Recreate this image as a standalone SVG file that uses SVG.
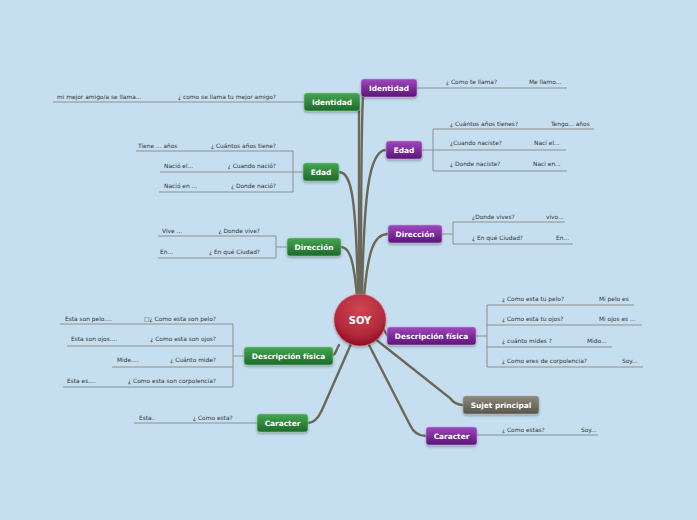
<svg xmlns="http://www.w3.org/2000/svg" width="697" height="520" viewBox="0 0 697 520">
<defs>
<linearGradient id="gp" x1="0" y1="0" x2="0" y2="1"><stop offset="0" stop-color="#a048be"/><stop offset="1" stop-color="#5a1377"/></linearGradient>
<linearGradient id="gg" x1="0" y1="0" x2="0" y2="1"><stop offset="0" stop-color="#45a651"/><stop offset="1" stop-color="#1c6a2a"/></linearGradient>
<linearGradient id="gs" x1="0" y1="0" x2="0" y2="1"><stop offset="0" stop-color="#8d8a7d"/><stop offset="1" stop-color="#57544a"/></linearGradient>
<radialGradient id="gc" cx="0.5" cy="0.3" r="0.7"><stop offset="0" stop-color="#d04655"/><stop offset="0.7" stop-color="#b2293a"/><stop offset="1" stop-color="#8c0d22"/></radialGradient>
<filter id="sh" x="-20%" y="-20%" width="140%" height="160%"><feDropShadow dx="0" dy="1.5" stdDeviation="1" flood-color="#000" flood-opacity="0.3"/></filter>
</defs>
<style>
.bg{fill:#c5dff1}
.main{fill:none;stroke:#6b6859;stroke-width:2.4;stroke-linecap:round}
.sub{fill:none;stroke:#8f8f8a;stroke-width:1}
.t{font-family:"DejaVu Sans",Verdana,sans-serif;font-size:5.9px;fill:#333}
.e{text-anchor:end}
.n{font-family:"DejaVu Sans",Verdana,sans-serif;font-size:7.4px;font-weight:bold;fill:#fff;text-anchor:middle}
.p{fill:url(#gp);stroke:#c99ad8;stroke-width:0.6;filter:url(#sh)}
.g{fill:url(#gg);stroke:#8fcf97;stroke-width:0.6;filter:url(#sh)}
.s{fill:url(#gs);stroke:#b0ad9f;stroke-width:0.6;filter:url(#sh)}
</style>
<rect class="bg" width="697" height="520"/>
<g id="connectors">
<path class="main" d="M361,296 C361,200 361,130 363,97"/>
<path class="main" d="M359,296 C359,210 359,140 359,111"/>
<path class="main" d="M362,296 C364,200 368,150 386,150"/>
<path class="main" d="M358,296 C356,200 352,172 339,172"/>
<path class="main" d="M364,297 C368,250 374,234 388,234"/>
<path class="main" d="M357,297 C354,262 350,247 341,247"/>
<path class="main" d="M383,328 L387,335"/>
<path class="main" d="M339,345 C336,350 336,354 333,355"/>
<path class="main" d="M374,338 L450,398 Q455,405 463,405"/>
<path class="main" d="M368,343 L410,425 Q415,436 426,436"/>
<path class="main" d="M351,344 L322,410 Q316,423 308,423"/>
<path class="sub" d="M417,88 H567"/>
<path class="sub" d="M53,102 H304"/>
<path class="sub" d="M422,150 H433 M433,129 V171 M433,129 H594 M433,150 H566 M433,171 H567"/>
<path class="sub" d="M303,172 H293 M293,151 V192 M136,151 H293 M160,172 H293 M159,192 H293"/>
<path class="sub" d="M442,234 H453 M453,222 V244 M453,222 H565 M453,244 H573"/>
<path class="sub" d="M287,247 H276 M276,236 V258 M158,236 H276 M158,258 H276"/>
<path class="sub" d="M476,336 H487 M487,305 V367 M487,305 H634 M487,325 H642 M487,347 H612 M487,367 H643"/>
<path class="sub" d="M244,356 H233 M233,324 V387 M60,324 H233 M67,346 H233 M112,367 H233 M63,387 H233"/>
<path class="sub" d="M134,423 H257"/>
<path class="sub" d="M477,435 H598"/>
</g>
<g id="n-soy">
<circle cx="360" cy="320" r="26" fill="url(#gc)" stroke="#e07a86" stroke-width="0.6" filter="url(#sh)"/>
<text x="360" y="323.5" class="n" style="font-size:10px">SOY</text>
</g>
<g id="n-identidad-p">
<rect class="p" x="361" y="79" width="56" height="18" rx="3"/>
<text class="n" x="389" y="91">Identidad</text>
<text class="t" x="446" y="84">¿ Como te llama?</text>
<text class="t" x="529" y="84">Me llamo...</text>
</g>
<g id="n-identidad-g">
<rect class="g" x="304" y="93" width="56" height="18" rx="3"/>
<text class="n" x="332" y="105">Identidad</text>
<text class="t" x="57" y="98.5">mi mejor amigo/a se llama...</text>
<text class="t e" x="276" y="98.5">¿ como se llama tu mejor amigo?</text>
</g>
<g id="n-edad-p">
<rect class="p" x="386" y="141" width="36" height="18" rx="3"/>
<text class="n" x="404" y="153">Edad</text>
<text class="t" x="450" y="125.5">¿ Cuántos años tienes?</text>
<text class="t" x="551" y="125.5">Tengo... años</text>
<text class="t" x="450" y="145">¿Cuando naciste?</text>
<text class="t" x="534" y="145">Naci el...</text>
<text class="t" x="450" y="166">¿ Donde naciste?</text>
<text class="t" x="533" y="166">Naci en...</text>
</g>
<g id="n-edad-g">
<rect class="g" x="303" y="163" width="36" height="18" rx="3"/>
<text class="n" x="321" y="175">Edad</text>
<text class="t" x="138" y="147.5">Tiene ... años</text>
<text class="t e" x="276" y="147.5">¿ Cuántos años tiene?</text>
<text class="t" x="164" y="167.5">Nació el...</text>
<text class="t e" x="276" y="167.5">¿ Cuando nació?</text>
<text class="t" x="164" y="188">Nació en ...</text>
<text class="t e" x="276" y="188">¿ Donde nació?</text>
</g>
<g id="n-direccion-p">
<rect class="p" x="388" y="225" width="54" height="18" rx="3"/>
<text class="n" x="415" y="237">Dirección</text>
<text class="t" x="472" y="219">¿Donde vives?</text>
<text class="t" x="546" y="219">vivo...</text>
<text class="t" x="472" y="240">¿ En qué Ciudad?</text>
<text class="t" x="556" y="240">En...</text>
</g>
<g id="n-direccion-g">
<rect class="g" x="287" y="238" width="54" height="18" rx="3"/>
<text class="n" x="314" y="250">Dirección</text>
<text class="t" x="162" y="232.5">Vive ...</text>
<text class="t e" x="260" y="232.5">¿ Donde vive?</text>
<text class="t" x="160" y="254">En...</text>
<text class="t e" x="260" y="254">¿ En qué Ciudad?</text>
</g>
<g id="n-descripcion-p">
<rect class="p" x="387" y="327" width="89" height="18" rx="3"/>
<text class="n" x="431.5" y="339">Descripción física</text>
<text class="t" x="502" y="301">¿ Como esta tu pelo?</text>
<text class="t" x="599" y="301">Mi pelo es</text>
<text class="t" x="502" y="321">¿ Como esta tu ojos?</text>
<text class="t" x="599" y="321">Mi ojos es ...</text>
<text class="t" x="502" y="343">¿ cuánto mides ?</text>
<text class="t" x="587" y="343">Mido...</text>
<text class="t" x="502" y="363">¿ Como eres de corpolencia?</text>
<text class="t" x="622" y="363">Soy...</text>
</g>
<g id="n-descripcion-g">
<rect class="g" x="244" y="347" width="89" height="18" rx="3"/>
<text class="n" x="288.5" y="359">Descripción física</text>
<text class="t" x="65" y="320.5">Esta son pelo....</text>
<text class="t e" x="216" y="320.5">□¿ Como esta son pelo?</text>
<text class="t" x="71" y="341">Esta son ojos....</text>
<text class="t e" x="216" y="341">¿ Como esta son ojos?</text>
<text class="t" x="117" y="362">Mide....</text>
<text class="t e" x="216" y="362">¿ Cuánto mide?</text>
<text class="t" x="67" y="382.5">Esta es....</text>
<text class="t e" x="216" y="382.5">¿ Como esta son corpolencia?</text>
</g>
<g id="n-sujet">
<rect class="s" x="463" y="396" width="76" height="18" rx="3"/>
<text class="n" x="501" y="408">Sujet principal</text>
</g>
<g id="n-caracter-p">
<rect class="p" x="426" y="427" width="51" height="18" rx="3"/>
<text class="n" x="451.5" y="439">Caracter</text>
<text class="t" x="502" y="432">¿ Como estas?</text>
<text class="t" x="581" y="432">Soy...</text>
</g>
<g id="n-caracter-g">
<rect class="g" x="257" y="414" width="51" height="18" rx="3"/>
<text class="n" x="282.5" y="426">Caracter</text>
<text class="t" x="139" y="419.5">Esta..</text>
<text class="t" x="193" y="419.5">¿ Como esta?</text>
</g>
</svg>
